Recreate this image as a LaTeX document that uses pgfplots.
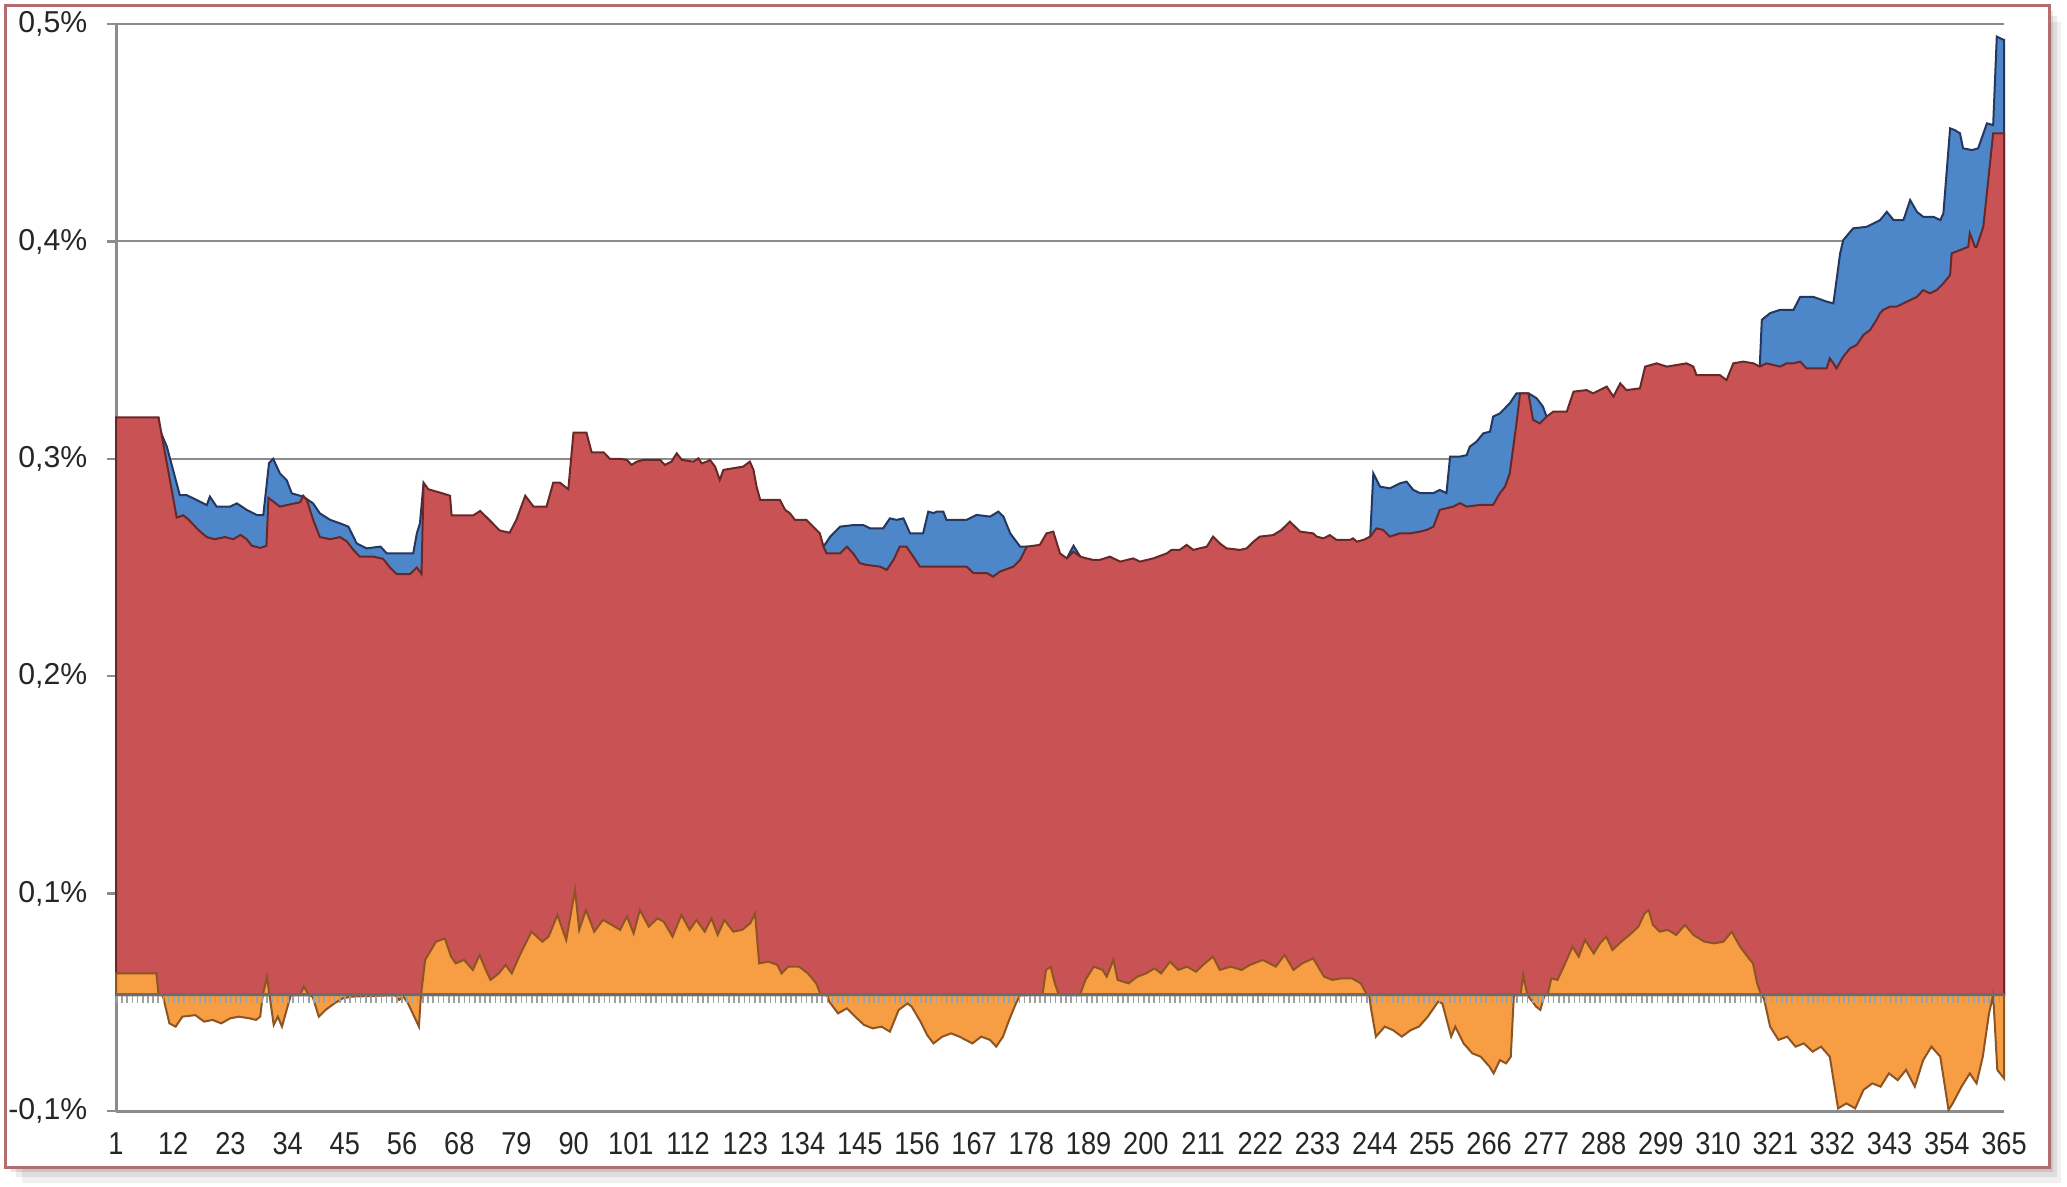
\documentclass[border=0pt]{standalone}
\usepackage{pgfplots}
\pgfplotsset{compat=1.18}
\usepackage{pgfplotstable}
\usepackage{fontspec}
\setmainfont{Liberation Sans}

\definecolor{redc}{RGB}{201,83,84}
\definecolor{rededge}{RGB}{105,40,40}
\definecolor{bluec}{RGB}{78,134,202}
\definecolor{blueedge}{RGB}{35,55,95}
\definecolor{orangec}{RGB}{247,157,68}
\definecolor{orangeedge}{RGB}{140,85,35}
\definecolor{framec}{RGB}{178,110,110}
\definecolor{gridc}{RGB}{140,140,140}

\pgfplotstableread{
x y
1 0.319
9.2 0.319
12.7 0.273
14.0 0.274
15.0 0.272
17.0 0.267
18.5 0.264
20.0 0.263
22.0 0.264
23.6 0.263
25.0 0.265
26.2 0.263
27.2 0.260
28.8 0.259
30.0 0.260
30.4 0.282
32.6 0.278
34.5 0.279
36.5 0.280
37.1 0.283
37.8 0.281
39.0 0.272
40.3 0.264
42.3 0.263
44.2 0.264
45.5 0.262
46.8 0.258
48.0 0.255
50.6 0.255
52.5 0.254
53.8 0.250
55.1 0.247
57.7 0.247
59.0 0.250
59.9 0.247
60.3 0.289
61.2 0.286
64.1 0.284
65.4 0.283
65.7 0.274
69.9 0.274
71.2 0.276
72.5 0.273
75.0 0.267
76.9 0.266
78.2 0.272
79.9 0.283
81.5 0.278
84.0 0.278
85.3 0.289
86.6 0.289
88.2 0.286
89.2 0.312
91.7 0.312
92.7 0.303
95.0 0.303
96.2 0.300
98.2 0.300
99.5 0.2995
100.4 0.2972
101.4 0.2987
102.7 0.2995
105.9 0.2995
106.8 0.2972
108.1 0.2987
109.1 0.3025
110.1 0.2995
112.3 0.2987
113.3 0.3002
113.9 0.2979
114.9 0.2987
115.5 0.2995
116.5 0.2964
117.4 0.2903
118.1 0.2949
121.9 0.2964
123.2 0.2987
123.9 0.2949
124.5 0.2872
125.2 0.2811
129.0 0.2811
130.0 0.2765
130.9 0.2750
131.9 0.2719
134.1 0.2719
135.4 0.2688
136.7 0.2657
137.4 0.2596
138.0 0.2565
140.6 0.2565
141.9 0.2596
143.1 0.2565
144.4 0.2520
145.7 0.2512
148.3 0.2504
149.6 0.2489
150.9 0.2535
152.1 0.2596
153.4 0.2596
154.7 0.2550
156.0 0.2504
165.0 0.2504
166.3 0.2474
168.9 0.2474
170.1 0.2458
171.4 0.2481
174.0 0.2504
175.3 0.2535
176.6 0.2596
179.1 0.2604
180.4 0.2657
181.7 0.2665
183.0 0.2565
184.3 0.2542
185.6 0.2573
186.9 0.2550
188.1 0.2542
189.4 0.2535
190.7 0.2535
192.6 0.2550
194.6 0.2527
197.1 0.2542
198.4 0.2527
201.0 0.2542
203.6 0.2565
204.5 0.2581
206.1 0.2581
207.4 0.2604
208.7 0.2581
211.3 0.2596
212.5 0.2642
213.8 0.2611
215.1 0.2588
217.7 0.2581
219.0 0.2588
220.3 0.2619
221.5 0.2642
224.1 0.2649
225.7 0.2673
227.3 0.2711
229.3 0.2665
231.8 0.2657
232.5 0.2642
233.8 0.2634
235.0 0.2649
236.3 0.2627
238.9 0.2627
239.5 0.2634
240.2 0.2619
241.5 0.2627
242.8 0.2642
244.0 0.2680
245.3 0.2673
246.6 0.2642
248.5 0.2657
250.5 0.2657
252.4 0.2665
253.7 0.2673
255.0 0.2688
256.2 0.2765
258.8 0.2780
260.1 0.2796
261.4 0.2780
264.0 0.2788
266.5 0.2788
267.8 0.2842
268.8 0.2872
269.7 0.2933
271.0 0.3163
271.7 0.3301
273.3 0.3301
274.2 0.3179
275.5 0.3163
276.8 0.3194
278.1 0.3217
280.7 0.3217
282.0 0.3309
284.5 0.3316
285.8 0.3301
288.4 0.3332
289.7 0.3286
291.0 0.3347
292.2 0.3316
294.8 0.3324
295.8 0.3424
298.0 0.3439
300.0 0.3424
303.8 0.3439
305.1 0.3424
305.7 0.3385
310.2 0.3385
311.5 0.3362
312.8 0.3439
314.7 0.3447
316.7 0.3439
317.9 0.3424
319.2 0.3439
321.8 0.3424
323.1 0.3439
324.4 0.3439
325.7 0.3447
326.9 0.3416
330.8 0.3416
331.4 0.3462
332.1 0.3439
332.7 0.3416
334.0 0.3470
335.3 0.3508
336.6 0.3524
337.9 0.3570
339.2 0.3593
340.4 0.3639
341.1 0.3670
341.7 0.3685
343.0 0.3700
344.3 0.3700
345.6 0.3715
346.9 0.3730
348.2 0.3745
349.4 0.3776
350.7 0.3761
352.0 0.3776
353.3 0.3807
354.6 0.3845
354.9 0.3945
356.5 0.3960
358.1 0.3975
358.4 0.4037
359.4 0.3975
359.7 0.3975
361.0 0.4067
362.9 0.4497
365.0 0.4497
}\redtab

\pgfplotstableread{
x y
9.2 0.319
9.5 0.313
10.8 0.3056
13.3 0.2833
14.6 0.2833
16.6 0.2810
18.5 0.2787
19.1 0.2826
20.4 0.2780
23.0 0.2780
24.3 0.2795
26.2 0.2765
28.2 0.2741
29.4 0.2741
30.5 0.2980
31.3 0.3000
32.6 0.2933
33.9 0.2902
34.9 0.2841
37.1 0.2826
39.0 0.2795
40.3 0.2749
42.3 0.2719
44.2 0.2703
45.8 0.2688
47.4 0.2611
49.3 0.2588
52.0 0.2596
53.2 0.2565
55.1 0.2565
58.3 0.2565
59.0 0.2657
59.6 0.2703
60.3 0.289
}\blueA

\pgfplotstableread{
x y
137.4 0.2596
138.7 0.2642
140.6 0.2688
143.1 0.2695
145.1 0.2695
146.4 0.2680
148.9 0.2680
150.2 0.2726
151.5 0.2719
152.8 0.2726
154.1 0.2657
156.6 0.2657
157.6 0.2757
158.6 0.2750
159.2 0.2757
160.5 0.2757
161.1 0.2719
165.0 0.2719
166.9 0.2742
169.5 0.2734
171.1 0.2757
172.1 0.2734
173.4 0.2657
175.3 0.2596
176.6 0.2596
}\blueB

\pgfplotstableread{
x y
184.3 0.2542
185.6 0.2600
186.9 0.2550
}\blueC

\pgfplotstableread{
x y
242.8 0.2642
243.4 0.2933
244.7 0.2872
246.6 0.2864
248.5 0.2887
249.8 0.2895
251.1 0.2857
252.4 0.2842
255.0 0.2842
256.2 0.2857
257.5 0.2842
258.2 0.3010
260.1 0.3010
261.4 0.3017
262.0 0.3056
263.3 0.3079
264.6 0.3117
265.9 0.3125
266.5 0.3194
267.8 0.3209
269.7 0.3255
271.0 0.3301
271.7 0.3301
273.3 0.3301
273.9 0.3293
274.9 0.3278
276.1 0.3240
276.8 0.3194
}\blueD

\pgfplotstableread{
x y
317.9 0.3424
318.3 0.3639
319.9 0.3670
321.8 0.3685
324.4 0.3685
325.7 0.3745
328.2 0.3745
330.8 0.3723
332.1 0.3715
333.4 0.3945
334.0 0.4006
335.9 0.4060
338.5 0.4067
341.1 0.4098
342.4 0.4136
343.7 0.4098
345.6 0.4098
346.9 0.4190
348.2 0.4136
349.4 0.4113
351.4 0.4113
352.7 0.4098
353.3 0.4128
354.6 0.4520
355.5 0.4512
356.5 0.4497
357.1 0.4428
358.8 0.4420
360.0 0.4428
361.7 0.4543
362.9 0.4535
363.6 0.4942
364.9 0.4927
365.0 0.4927
}\blueE

\pgfplotstableread{
x y
1 0.0633
8.8 0.0633
9.2 0.0533
10.0 0.0533
11.3 0.0403
12.5 0.0388
13.8 0.0434
16.3 0.0441
18.0 0.0411
19.6 0.0419
21.3 0.0403
23.0 0.0426
24.7 0.0434
26.8 0.0426
28.0 0.0419
28.8 0.0434
29.3 0.0533
30.1 0.0618
30.6 0.0533
31.4 0.0396
32.2 0.0434
33.0 0.0388
33.9 0.0465
34.7 0.0533
36.5 0.0533
37.2 0.0572
38.2 0.0533
38.9 0.0526
40.1 0.0434
41.4 0.0465
43.1 0.0495
44.7 0.0518
46.4 0.0526
54.8 0.0533
55.6 0.0511
56.4 0.0526
57.3 0.0495
58.5 0.0434
59.4 0.0388
59.8 0.0533
60.6 0.0695
62.7 0.0779
64.4 0.0794
65.6 0.0710
66.5 0.0679
68.1 0.0695
69.8 0.0649
71.1 0.0718
72.3 0.0649
73.2 0.0603
74.8 0.0633
76.1 0.0672
77.3 0.0633
79.0 0.0725
81.1 0.0825
83.2 0.0779
84.4 0.0802
86.1 0.0902
87.8 0.0787
89.5 0.1017
90.3 0.0833
91.6 0.0925
93.2 0.0825
94.9 0.0879
96.6 0.0856
98.2 0.0833
99.5 0.0895
100.8 0.0817
102.0 0.0925
103.7 0.0848
105.4 0.0886
106.6 0.0871
108.3 0.0802
110.0 0.0902
111.6 0.0833
112.9 0.0879
114.5 0.0825
115.8 0.0886
117.0 0.0810
118.3 0.0879
120.0 0.0825
121.7 0.0833
123.3 0.0864
124.2 0.0909
125.0 0.0679
126.8 0.0687
128.5 0.0672
129.3 0.0633
130.6 0.0664
132.7 0.0664
134.4 0.0633
136.0 0.0587
136.9 0.0533
138.1 0.0533
138.5 0.0503
140.2 0.0449
141.9 0.0472
143.5 0.0434
145.2 0.0396
146.9 0.0380
148.6 0.0388
150.2 0.0365
151.9 0.0465
153.6 0.0495
154.4 0.0480
156.1 0.0411
157.4 0.0349
158.6 0.0311
160.3 0.0342
162.0 0.0357
163.6 0.0342
166.1 0.0311
167.8 0.0342
169.5 0.0327
170.7 0.0296
172.0 0.0342
173.2 0.0419
174.5 0.0495
175.3 0.0533
179.6 0.0533
180.3 0.0649
181.2 0.0664
182.0 0.0587
182.8 0.0533
186.8 0.0533
187.9 0.0603
189.5 0.0664
191.2 0.0649
192.0 0.0618
193.3 0.0695
194.1 0.0603
196.2 0.0587
197.9 0.0618
199.6 0.0633
201.2 0.0656
202.5 0.0633
204.2 0.0687
205.8 0.0649
207.5 0.0664
209.2 0.0641
210.9 0.0679
212.5 0.0710
213.8 0.0649
215.9 0.0664
218.0 0.0649
219.6 0.0672
222.1 0.0695
224.6 0.0664
226.3 0.0718
228.0 0.0649
229.7 0.0679
231.8 0.0702
233.9 0.0618
235.5 0.0603
237.2 0.0610
239.3 0.0610
241.0 0.0587
242.2 0.0533
242.6 0.0533
243.0 0.0465
243.9 0.0342
245.6 0.0388
247.2 0.0372
248.9 0.0342
250.6 0.0372
252.2 0.0388
253.9 0.0434
255.9 0.0503
256.7 0.0495
258.4 0.0342
259.2 0.0388
260.8 0.0311
262.5 0.0265
264.1 0.0250
265.8 0.0204
266.6 0.0173
267.8 0.0234
269.0 0.0219
269.9 0.0250
270.5 0.0533
271.8 0.0533
272.3 0.0626
273.1 0.0533
274.8 0.0480
275.6 0.0465
276.4 0.0533
277.0 0.0533
277.7 0.0610
278.9 0.0603
280.1 0.0664
281.8 0.0756
283.0 0.0710
284.2 0.0787
285.9 0.0725
287.1 0.0771
288.3 0.0802
289.5 0.0741
291.2 0.0779
292.8 0.0810
294.5 0.0848
295.7 0.0909
296.5 0.0925
297.3 0.0856
298.6 0.0825
300.2 0.0833
301.8 0.0810
303.5 0.0856
305.1 0.0810
307.2 0.0779
309.2 0.0771
310.9 0.0779
312.5 0.0825
314.1 0.0756
315.8 0.0702
316.6 0.0679
317.4 0.0587
318.2 0.0533
318.7 0.0518
319.9 0.0388
321.5 0.0327
323.2 0.0342
324.8 0.0296
326.4 0.0311
328.1 0.0273
329.7 0.0296
331.4 0.0250
333.0 0.0012
334.6 0.0035
336.3 0.0012
337.9 0.0097
339.6 0.0127
341.2 0.0112
342.8 0.0173
344.5 0.0142
346.1 0.0189
347.8 0.0112
349.4 0.0234
351.0 0.0296
352.7 0.0250
354.3 0.0005
355.1 0.0035
356.8 0.0112
358.4 0.0173
359.7 0.0127
360.9 0.0250
362.1 0.0449
362.9 0.0533
363.7 0.0189
365.0 0.0150
}\orangetab

\begin{document}
\begin{tikzpicture}
\useasboundingbox (0,0) rectangle (20.67,11.86);
% frame with soft shadow
\fill[black, opacity=0.06] (0.06+0.16,0.19-0.16) rectangle (20.49+0.12,11.80-0.16);
\fill[black, opacity=0.08] (0.06+0.10,0.19-0.10) rectangle (20.49+0.08,11.80-0.10);
\fill[black, opacity=0.10] (0.06+0.05,0.19-0.05) rectangle (20.49+0.04,11.80-0.05);
\fill[white] (0.06,0.19) rectangle (20.49,11.80);
\draw[framec, line width=0.3mm] (0.06,0.19) rectangle (20.49,11.80);

\begin{axis}[
  at={(1.16cm,0.75cm)}, anchor=south west,
  width=18.88cm, height=10.87cm, scale only axis,
  xmin=1, xmax=365, ymin=0, ymax=0.5,
  axis lines*=left,
  axis line style={gridc, line width=0.3mm},
  ymajorgrids,
  grid style={gridc, line width=0.2mm},
  ytick={0,0.1,0.2,0.3,0.4,0.5},
  yticklabels={{-0,1\%},{0,1\%},{0,2\%},{0,3\%},{0,4\%},{0,5\%}},
  xtick={1,12.03,23.06,34.09,45.12,56.15,67.18,78.21,89.24,100.27,111.30,122.33,133.36,144.39,155.42,166.45,177.48,188.52,199.55,210.58,221.61,232.64,243.67,254.70,265.73,276.76,287.79,298.82,309.85,320.88,331.91,342.94,353.97,365},
  xticklabels={1,12,23,34,45,56,68,79,90,101,112,123,134,145,156,167,178,189,200,211,222,233,244,255,266,277,288,299,310,321,332,343,354,365},
  xtick align=inside, ytick align=outside,
  major tick length=0.9mm,
  xtick style={draw=none},
  ytick style={gridc, line width=0.25mm},
  yticklabel style={font=\fontsize{8.6}{10}\selectfont, text=black!85, anchor=east, inner sep=0pt, xshift=-1.9mm},
  xticklabel style={font=\fontsize{9}{10}\selectfont, text=black!85, anchor=north, inner sep=0pt, yshift=-2.1mm, xscale=0.86},
  clip=false,
]
% blue series (behind)
\addplot[fill=bluec, draw=blueedge, line width=0.2mm] table {\blueA} |- (axis cs:9.2,0.0533) -- cycle;
\addplot[fill=bluec, draw=blueedge, line width=0.2mm] table {\blueB} |- (axis cs:137.4,0.0533) -- cycle;
\addplot[fill=bluec, draw=blueedge, line width=0.2mm] table {\blueC} |- (axis cs:184.3,0.0533) -- cycle;
\addplot[fill=bluec, draw=blueedge, line width=0.2mm] table {\blueD} |- (axis cs:242.8,0.0533) -- cycle;
\addplot[fill=bluec, draw=blueedge, line width=0.2mm] table {\blueE} |- (axis cs:317.9,0.0533) -- cycle;
% red series
\addplot[fill=redc, draw=rededge, line width=0.2mm] table {\redtab} |- (axis cs:1,0.0533) -- cycle;
% orange series
\addplot[fill=orangec, draw=orangeedge, line width=0.2mm] table {\orangetab} |- (axis cs:1,0.0533) -- cycle;
% zero line with category ticks
\addplot[gray!75, line width=0.75mm, dash pattern=on 0.16mm off 0.3587mm] coordinates {(1,0.0515) (365,0.0515)};
\addplot[gray!85!black, line width=0.3mm] coordinates {(1,0.0535) (365,0.0535)};
\end{axis}
\end{tikzpicture}
\end{document}
